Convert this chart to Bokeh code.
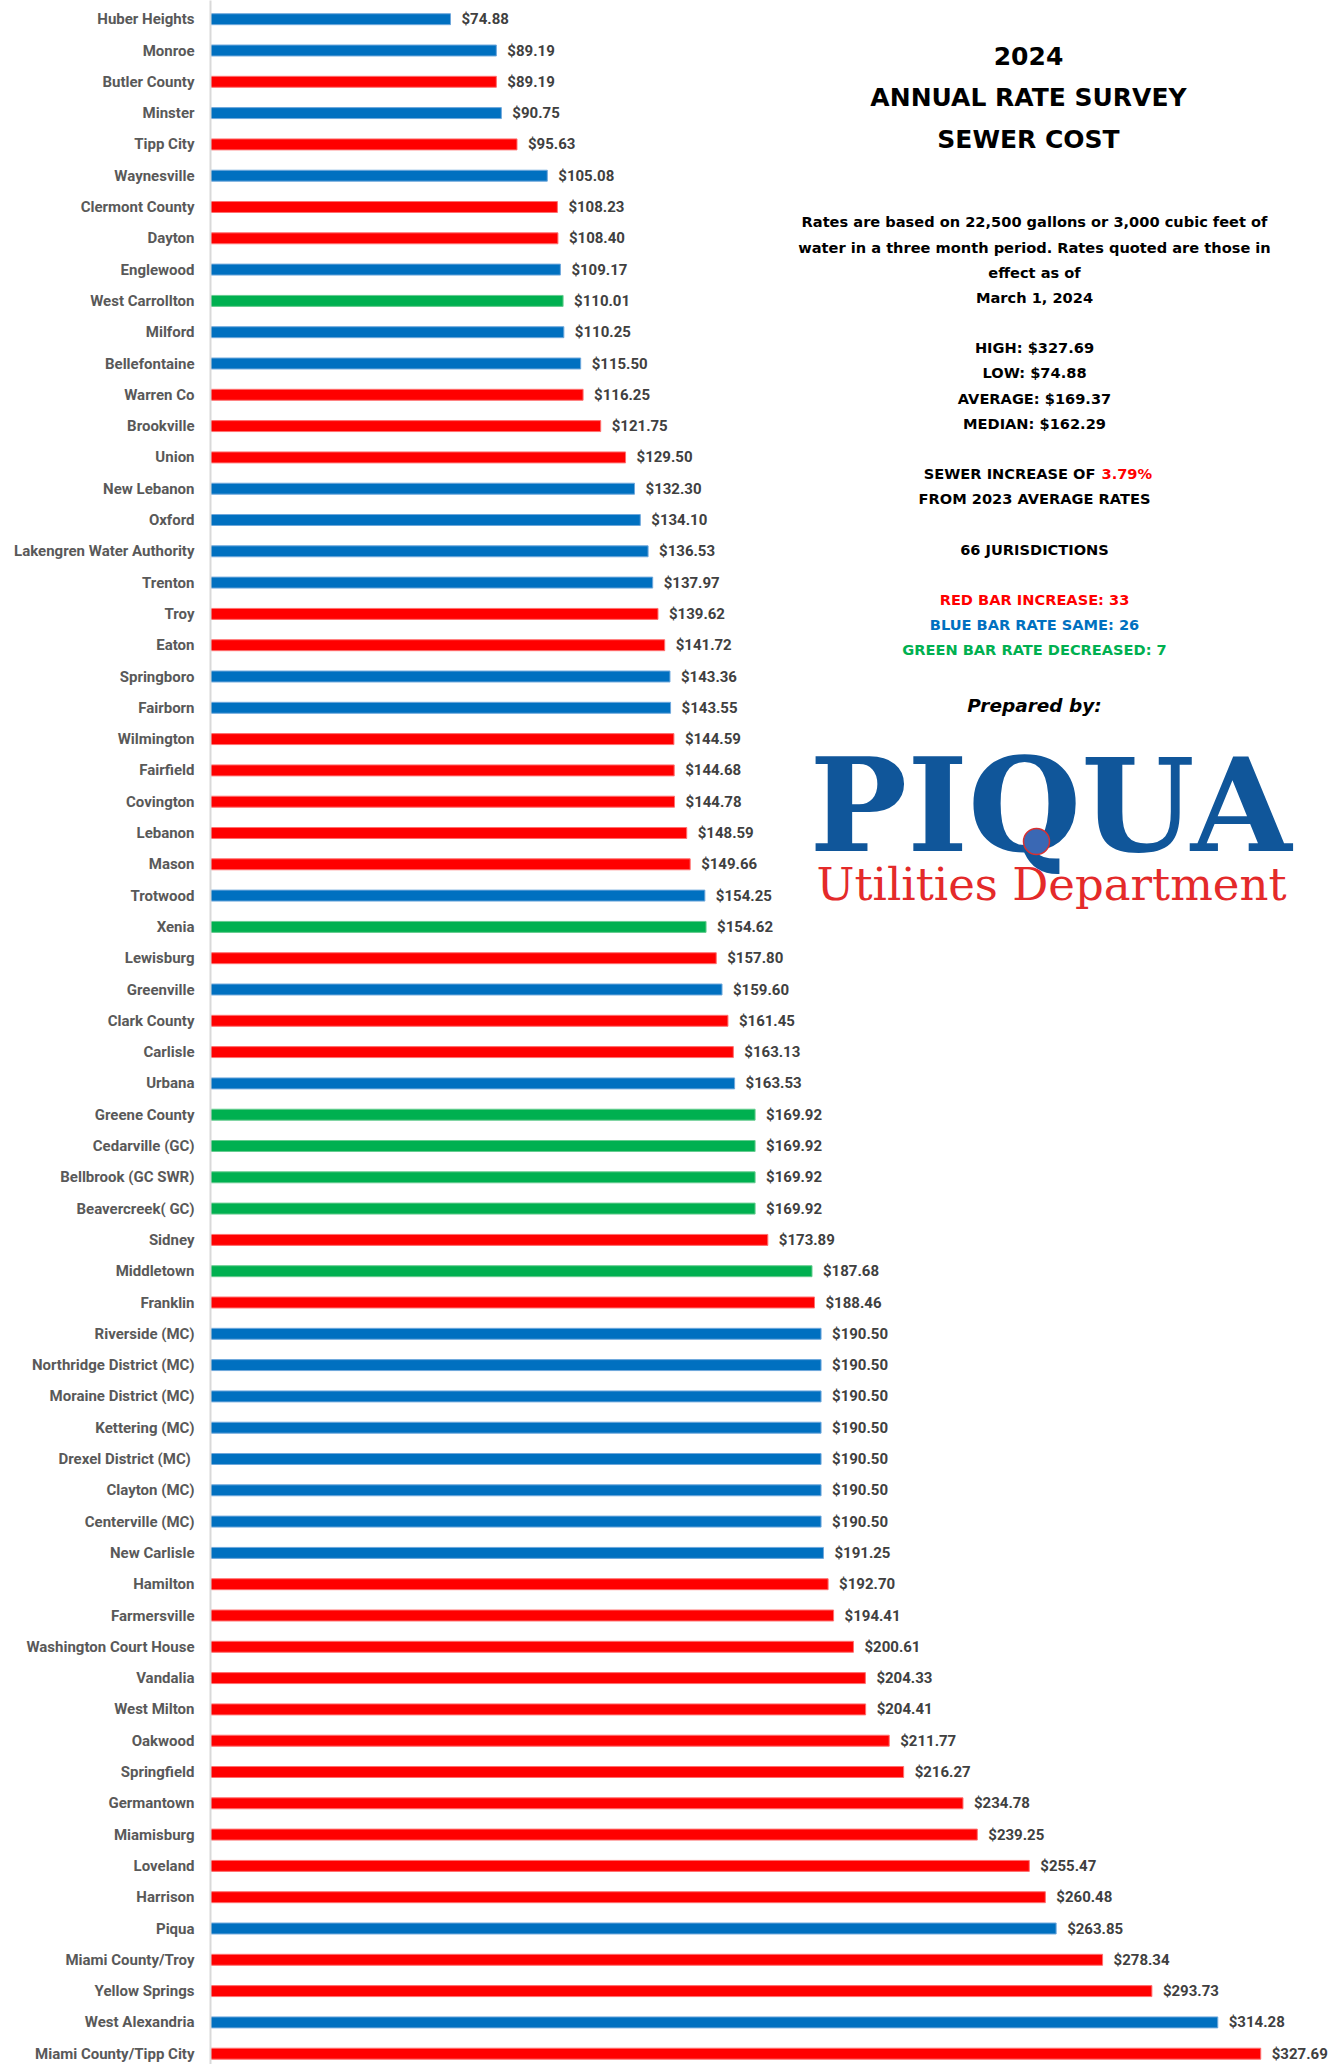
from bokeh.plotting import figure
from bokeh.models import ColumnDataSource, Range1d, FixedTicker, Label
from bokeh.embed import file_html
from bokeh.resources import INLINE
from bokeh.core.properties import value

jurisdictions = [
    "Huber Heights", "Monroe", "Butler County", "Minster", "Tipp City", "Waynesville",
    "Clermont County", "Dayton", "Englewood", "West Carrollton", "Milford", "Bellefontaine",
    "Warren Co", "Brookville", "Union", "New Lebanon", "Oxford", "Lakengren Water Authority",
    "Trenton", "Troy", "Eaton", "Springboro", "Fairborn", "Wilmington", "Fairfield",
    "Covington", "Lebanon", "Mason", "Trotwood", "Xenia", "Lewisburg", "Greenville",
    "Clark County", "Carlisle", "Urbana", "Greene County", "Cedarville (GC)",
    "Bellbrook (GC SWR)", "Beavercreek( GC)", "Sidney", "Middletown", "Franklin",
    "Riverside (MC)", "Northridge District (MC)", "Moraine District (MC)", "Kettering (MC)",
    "Drexel District (MC) ", "Clayton (MC)", "Centerville (MC)", "New Carlisle", "Hamilton",
    "Farmersville", "Washington Court House", "Vandalia", "West Milton", "Oakwood",
    "Springfield", "Germantown", "Miamisburg", "Loveland", "Harrison", "Piqua",
    "Miami County/Troy", "Yellow Springs", "West Alexandria", "Miami County/Tipp City",
]
rates = [
    74.88, 89.19, 89.19, 90.75, 95.63, 105.08,
    108.23, 108.40, 109.17, 110.01, 110.25, 115.50,
    116.25, 121.75, 129.50, 132.30, 134.10, 136.53,
    137.97, 139.62, 141.72, 143.36, 143.55, 144.59, 144.68,
    144.78, 148.59, 149.66, 154.25, 154.62, 157.80, 159.60,
    161.45, 163.13, 163.53, 169.92, 169.92,
    169.92, 169.92, 173.89, 187.68, 188.46,
    190.50, 190.50, 190.50, 190.50,
    190.50, 190.50, 190.50, 191.25, 192.70,
    194.41, 200.61, 204.33, 204.41, 211.77,
    216.27, 234.78, 239.25, 255.47, 260.48, 263.85,
    278.34, 293.73, 314.28, 327.69,
]
# "up" = red (increase), "same" = blue, "down" = green (decrease)
change = [
    "same", "same", "up", "same", "up", "same",
    "up", "up", "same", "down", "same", "same",
    "up", "up", "up", "same", "same", "same",
    "same", "up", "up", "same", "same", "up", "up",
    "up", "up", "up", "same", "down", "up", "same",
    "up", "up", "same", "down", "down",
    "down", "down", "up", "down", "up",
    "same", "same", "same", "same",
    "same", "same", "same", "same", "up",
    "up", "up", "up", "up", "up",
    "up", "up", "up", "up", "up", "same",
    "up", "up", "same", "up",
]

fill_map = {"up": "#FF0000", "same": "#0070C0", "down": "#00B050"}
edge_map = {"up": "#FF7070", "same": "#6FA8DC", "down": "#66CC8F"}

# ---- layout constants (pixels) ----
W, H = 1338, 2064
PAGE_X, PAGE_Y = 0, 0     # where the figure lands on the page
LEFT = 210                # frame left edge inside the figure
PX_PER_DOLLAR = 3.205
ROW0 = 18.7               # y of first row
ROW_H = 31.3              # row pitch

x_end = (W - LEFT) / PX_PER_DOLLAR
y_top = -ROW0 / ROW_H
y_bot = (H - ROW0) / ROW_H

def dx(page_x):
    return (page_x - PAGE_X - LEFT) / PX_PER_DOLLAR

def dy(page_y):
    return (page_y - PAGE_Y - ROW0) / ROW_H

rows = list(range(len(jurisdictions)))
src = ColumnDataSource(dict(
    y=rows,
    rate=rates,
    name=jurisdictions,
    fill=[fill_map[c] for c in change],
    edge=[edge_map[c] for c in change],
    lab=["$%.2f" % r for r in rates],
))

p = figure(width=W, height=H,
           x_range=Range1d(0, x_end), y_range=Range1d(y_bot, y_top),
           output_backend="svg", toolbar_location=None,
           x_axis_location=None,
           min_border_left=LEFT, min_border_right=0,
           min_border_top=0, min_border_bottom=0)
p.outline_line_color = None
p.xgrid.visible = False
p.ygrid.visible = False
p.background_fill_color = "white"

CAT_FONT = "Roboto"

ax = p.yaxis[0]
ax.ticker = FixedTicker(ticks=rows)
ax.major_label_overrides = {i: n for i, n in zip(rows, jurisdictions)}
ax.axis_line_color = "#D9D9D9"
ax.axis_line_width = 2
ax.major_tick_line_color = None
ax.minor_tick_line_color = None
ax.major_tick_out = 0
ax.major_label_standoff = 16
ax.major_label_text_font = CAT_FONT
ax.major_label_text_font_style = "bold"
ax.major_label_text_font_size = "15px"
ax.major_label_text_color = "#595959"

p.hbar(y="y", left=0, right="rate", height=0.35, source=src,
       fill_color="fill", line_color="edge", line_width=1)

p.text(x="rate", y="y", text="lab", source=src, x_offset=11,
       text_align="left", text_baseline="middle",
       text_font=value(CAT_FONT), text_font_style="bold",
       text_font_size="15px", text_color="#404040")

TXT_FONT = "DejaVu Sans"

def add_label(text, px, py, size, color="black", style="bold", align="center",
              font=TXT_FONT, level="annotation"):
    p.add_layout(Label(x=dx(px), y=dy(py), text=text, text_align=align,
                       text_baseline="middle", text_font=font,
                       text_font_size=size, text_font_style=style,
                       text_color=color, level=level))

CX = 1034
add_label("2024", 1028, 55, "25px")
add_label("ANNUAL RATE SURVEY", 1028, 97, "25px")
add_label("SEWER COST", 1028, 139, "25px")

add_label("Rates are based on 22,500 gallons or 3,000 cubic feet of", CX, 221, "14.6px")
add_label("water in a three month period. Rates quoted are those in", CX, 247, "14.6px")
add_label("effect as of", CX, 272, "14.6px")
add_label("March 1, 2024", CX, 297, "14.6px")

add_label("HIGH: $327.69", CX, 347, "14.6px")
add_label("LOW: $74.88", CX, 372, "14.6px")
add_label("AVERAGE: $169.37", CX, 398, "14.6px")
add_label("MEDIAN: $162.29", CX, 423, "14.6px")

add_label("SEWER INCREASE OF ", 1100, 473, "14.6px", align="right")
add_label("3.79%", 1101, 473, "14.6px", color="#FF0000", align="left")
add_label("FROM 2023 AVERAGE RATES", CX, 498, "14.6px")

add_label("66 JURISDICTIONS", CX, 549, "14.6px")

add_label("RED BAR INCREASE: 33", CX, 599, "14.6px", color="#FF0000")
add_label("BLUE BAR RATE SAME: 26", CX, 624, "14.6px", color="#0070C0")
add_label("GREEN BAR RATE DECREASED: 7", CX, 649, "14.6px", color="#00B050")

add_label("Prepared by:", CX, 705, "18.5px", style="bold italic")

add_label("PIQUA", 1050, 805, "130px", color="#10569A", font="DejaVu Serif",
          level="underlay")
add_label("Utilities Department", 1051, 884, "45px", color="#E42A2A",
          style="normal", font="DejaVu Serif")

# water droplet of the logo, over the tail of the Q
p.scatter(x=[dx(1036)], y=[dy(841)], size=26, marker="circle",
          fill_color="#3A68B4", line_color="#D93030", line_width=1.5)

open("out.html", "w").write(file_html(p, INLINE))
